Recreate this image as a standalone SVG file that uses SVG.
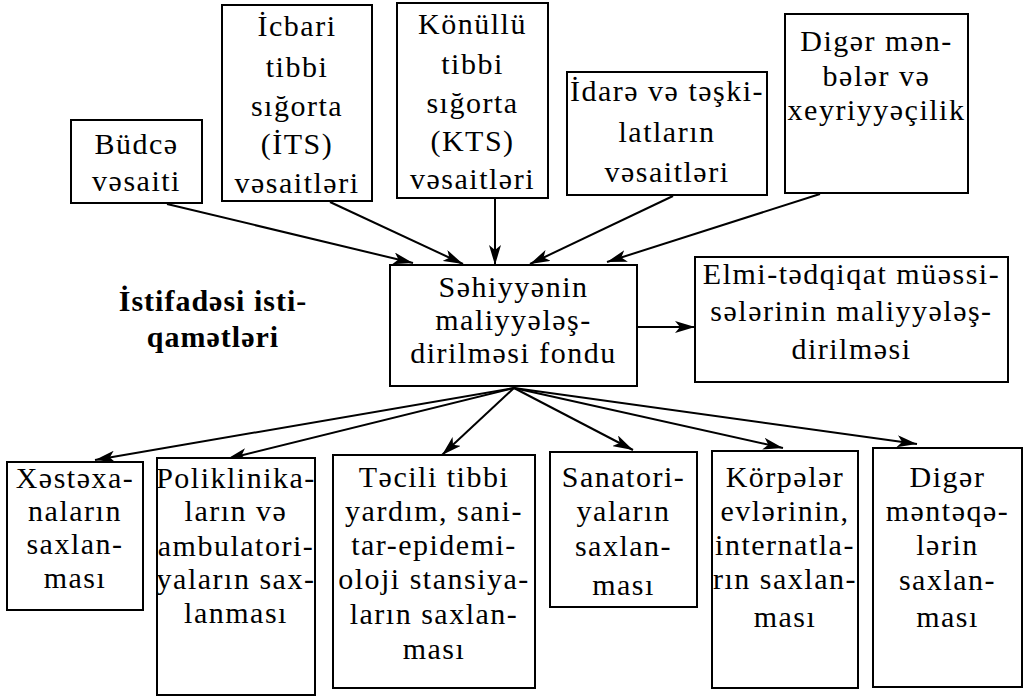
<svg xmlns="http://www.w3.org/2000/svg" width="1025" height="699" viewBox="0 0 1025 699">
  <style>
    .box { fill: #fff; stroke: #000; stroke-width: 2; }
    .t { font-family: "Liberation Serif", "Times New Roman", serif; font-size: 30px; letter-spacing: 1.5px; fill: #000; text-anchor: middle; }
    .lbl { font-family: "Liberation Serif", "Times New Roman", serif; font-size: 30px; font-weight: bold; letter-spacing: 1px; fill: #000; text-anchor: middle; }
    .edge { stroke: #000; stroke-width: 2; fill: none; marker-end: url(#arrow); }
  </style>
  <defs>
    <marker id="arrow" markerUnits="userSpaceOnUse" markerWidth="22" markerHeight="12" refX="20" refY="6" orient="auto">
      <path d="M0,0 L20,6 L0,12 L5,6 z" fill="#000"/>
    </marker>
  </defs>
  <rect width="1025" height="699" fill="#fff"/>

  <!-- connectors -->
  <g id="connectors">
    <line class="edge" x1="167" y1="204" x2="413" y2="263"/>
    <line class="edge" x1="330" y1="202" x2="463" y2="264"/>
    <line class="edge" x1="495" y1="198" x2="495" y2="265"/>
    <line class="edge" x1="673" y1="196" x2="530" y2="264"/>
    <line class="edge" x1="820" y1="194" x2="607" y2="262"/>
    <line class="edge" x1="637" y1="327" x2="695" y2="327"/>
    <line class="edge" x1="514" y1="388" x2="95" y2="460"/>
    <line class="edge" x1="514" y1="388" x2="227" y2="459"/>
    <line class="edge" x1="514" y1="388" x2="442" y2="455"/>
    <line class="edge" x1="514" y1="388" x2="633" y2="450"/>
    <line class="edge" x1="514" y1="388" x2="783" y2="448"/>
    <line class="edge" x1="514" y1="388" x2="917" y2="444"/>
  </g>

  <!-- sources -->
  <g id="budce">
    <rect class="box" x="71" y="120" width="131" height="83"/>
    <text class="t" x="136.5" y="154">Büdcə</text>
    <text class="t" x="136.5" y="191">vəsaiti</text>
  </g>
  <g id="its">
    <rect class="box" x="222" y="5" width="150" height="196"/>
    <text class="t" x="297" y="36">İcbari</text>
    <text class="t" x="297" y="77">tibbi</text>
    <text class="t" x="297" y="116">sığorta</text>
    <text class="t" x="297" y="154">(İTS)</text>
    <text class="t" x="297" y="193">vəsaitləri</text>
  </g>
  <g id="kts">
    <rect class="box" x="397" y="3" width="151" height="195"/>
    <text class="t" x="472.5" y="34">Könüllü</text>
    <text class="t" x="472.5" y="74">tibbi</text>
    <text class="t" x="472.5" y="113">sığorta</text>
    <text class="t" x="472.5" y="151">(KTS)</text>
    <text class="t" x="472.5" y="189">vəsaitləri</text>
  </g>
  <g id="idare">
    <rect class="box" x="567" y="72" width="200" height="123"/>
    <text class="t" x="667" y="101">İdarə və təşki-</text>
    <text class="t" x="667" y="142">latların</text>
    <text class="t" x="667" y="182">vəsaitləri</text>
  </g>
  <g id="diger-menbeler">
    <rect class="box" x="785" y="14" width="183" height="179"/>
    <text class="t" x="876.5" y="51">Digər mən-</text>
    <text class="t" x="876.5" y="86">bələr və</text>
    <text class="t" x="876.5" y="120">xeyriyyəçilik</text>
  </g>

  <!-- fund -->
  <g id="fond">
    <rect class="box" x="390" y="265" width="247" height="121"/>
    <text class="t" x="513.5" y="297">Səhiyyənin</text>
    <text class="t" x="513.5" y="330">maliyyələş-</text>
    <text class="t" x="513.5" y="363">dirilməsi fondu</text>
  </g>
  <g id="elmi">
    <rect class="box" x="695" y="257" width="313" height="125"/>
    <text class="t" x="851.5" y="284">Elmi-tədqiqat müəssi-</text>
    <text class="t" x="851.5" y="321">sələrinin maliyyələş-</text>
    <text class="t" x="851.5" y="359">dirilməsi</text>
  </g>
  <g id="istifade">
    <text class="lbl" x="213" y="311">İstifadəsi isti-</text>
    <text class="lbl" x="213" y="347">qamətləri</text>
  </g>

  <!-- uses -->
  <g id="xestexana">
    <rect class="box" x="7" y="462" width="136" height="148"/>
    <text class="t" x="75" y="488">Xəstəxa-</text>
    <text class="t" x="75" y="521">naların</text>
    <text class="t" x="75" y="554">saxlan-</text>
    <text class="t" x="75" y="588">ması</text>
  </g>
  <g id="poliklinika">
    <rect class="box" x="157" y="458" width="158" height="237"/>
    <text class="t" x="236" y="488">Poliklinika-</text>
    <text class="t" x="236" y="521">ların və</text>
    <text class="t" x="236" y="556">ambulatori-</text>
    <text class="t" x="236" y="589">yaların sax-</text>
    <text class="t" x="236" y="623">lanması</text>
  </g>
  <g id="tecili">
    <rect class="box" x="333" y="455" width="202" height="233"/>
    <text class="t" x="434" y="487">Təcili tibbi</text>
    <text class="t" x="434" y="521">yardım, sani-</text>
    <text class="t" x="434" y="555">tar-epidemi-</text>
    <text class="t" x="434" y="589">oloji stansiya-</text>
    <text class="t" x="434" y="624">ların saxlan-</text>
    <text class="t" x="434" y="659">ması</text>
  </g>
  <g id="sanatori">
    <rect class="box" x="550" y="452" width="147" height="155"/>
    <text class="t" x="623.5" y="487">Sanatori-</text>
    <text class="t" x="623.5" y="521">yaların</text>
    <text class="t" x="623.5" y="556">saxlan-</text>
    <text class="t" x="623.5" y="595">ması</text>
  </g>
  <g id="korpeler">
    <rect class="box" x="712" y="451" width="146" height="237"/>
    <text class="t" x="785" y="487">Körpələr</text>
    <text class="t" x="785" y="521">evlərinin,</text>
    <text class="t" x="785" y="555">internatla-</text>
    <text class="t" x="785" y="589">rın saxlan-</text>
    <text class="t" x="785" y="627">ması</text>
  </g>
  <g id="diger-menteqeler">
    <rect class="box" x="873" y="448" width="149" height="239"/>
    <text class="t" x="947.5" y="487">Digər</text>
    <text class="t" x="947.5" y="521">məntəqə-</text>
    <text class="t" x="947.5" y="555">lərin</text>
    <text class="t" x="947.5" y="590">saxlan-</text>
    <text class="t" x="947.5" y="627">ması</text>
  </g>
</svg>
